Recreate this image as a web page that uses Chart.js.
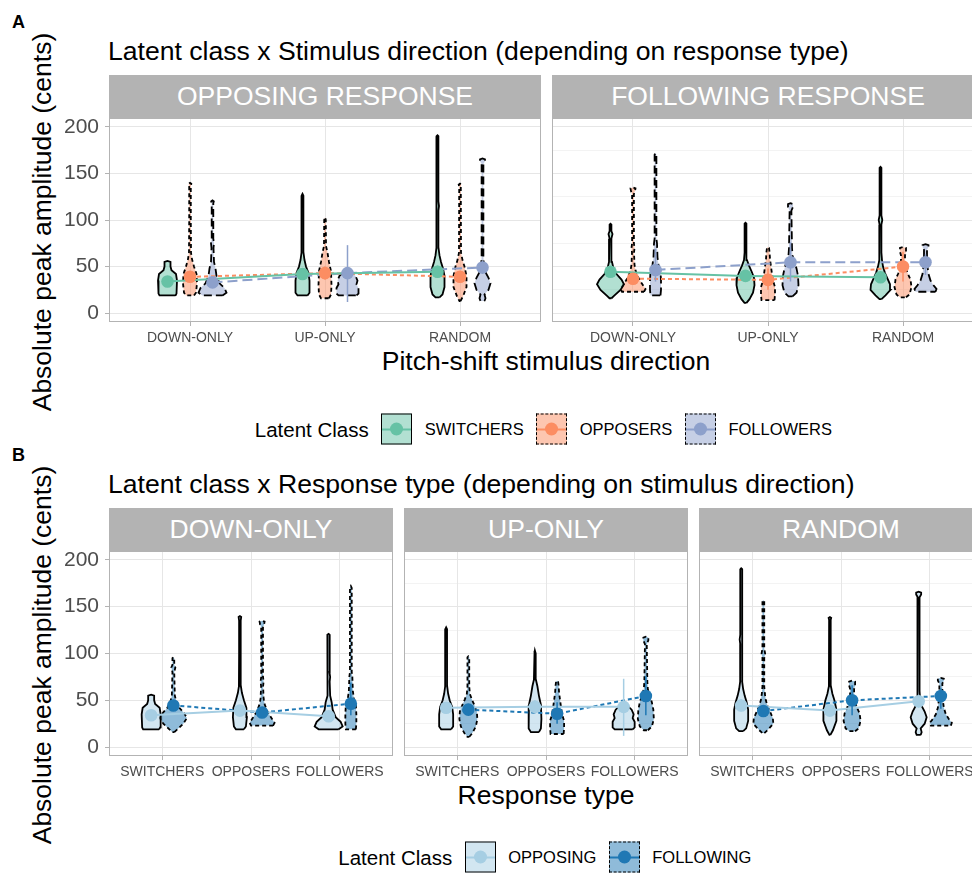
<!DOCTYPE html>
<html>
<head>
<meta charset="utf-8">
<script src="https://cdn.jsdelivr.net/npm/chart.js@4.4.1/dist/chart.umd.min.js"></script>
<style>
  html, body { margin: 0; padding: 0; background: #fff; width: 972px; height: 873px; overflow: hidden; position: relative;
    font-family: 'Liberation Sans', Arial, Helvetica, sans-serif; }
  .abs { position: absolute; white-space: nowrap; line-height: 1; color: #000; }
  .tag { font-weight: bold; font-size: 18px; }
  .title { font-size: 26.6px; }
  .strip { position: absolute; background: #B3B3B3; color: #fff; font-size: 26.5px; line-height: 1;
    display: flex; align-items: center; justify-content: center; white-space: nowrap; overflow: hidden; }
  .xtitle { font-size: 26.5px; transform: translateX(-50%); }
  .ytitle { font-size: 26.5px; transform: translate(-50%, -50%) rotate(-90deg); }
  .legend { position: absolute; display: flex; align-items: center; gap: 12.5px; transform: translateY(-50%); white-space: nowrap; }
  .legend .lt { font-size: 20.5px; }
  .legend .lab { font-size: 16.5px; }
  .key { width: 31px; height: 31px; box-sizing: border-box; border: 1.5px solid #000; position: relative; }
  .key.dashed { border-style: dashed; }
  .key .ln { position: absolute; left: 0; right: 0; top: 50%; height: 2px; margin-top: -1px; }
  .key .dt { position: absolute; left: 50%; top: 50%; width: 13px; height: 13px; margin: -6.5px 0 0 -6.5px; border-radius: 50%; }
  canvas { position: absolute; }
</style>
</head>
<body>

<div class="abs tag" style="left:12px; top:13px;">A</div>
<div class="abs title" style="left:108px; top:37.6px;">Latent class x Stimulus direction (depending on response type)</div>
<div class="strip" style="left:109px; top:75px; width:432px; height:43px;">OPPOSING RESPONSE</div>
<div class="strip" style="left:552px; top:75px; width:432px; height:43px;">FOLLOWING RESPONSE</div>
<div class="abs xtitle" style="left:546px; top:347.6px;">Pitch-shift stimulus direction</div>
<div class="abs ytitle" style="left:42px; top:222px;">Absolute peak amplitude (cents)</div>
<div class="legend" id="legendA" style="left:254.8px; top:429px;"></div>

<div class="abs tag" style="left:12px; top:446px;">B</div>
<div class="abs title" style="left:108px; top:471px;">Latent class x Response type (depending on stimulus direction)</div>
<div class="strip" style="left:109px; top:508px; width:284px; height:43px;">DOWN-ONLY</div>
<div class="strip" style="left:404px; top:508px; width:284px; height:43px;">UP-ONLY</div>
<div class="strip" style="left:699px; top:508px; width:284px; height:43px;">RANDOM</div>
<div class="abs xtitle" style="left:546px; top:781.6px;">Response type</div>
<div class="abs ytitle" style="left:42px; top:655px;">Absolute peak amplitude (cents)</div>
<div class="legend" id="legendB" style="left:338.3px; top:857px;"></div>

<script>
// ---- data ----
const stimulusDirs = ['DOWN-ONLY', 'UP-ONLY', 'RANDOM'];
const latentClasses = ['SWITCHERS', 'OPPOSERS', 'FOLLOWERS'];
const responseTypes = ['OPPOSING', 'FOLLOWING'];

const yGridValues = [0, 25, 50, 75, 100, 125, 150, 175, 200];
const yLabelValues = [0, 50, 100, 150, 200];

// mean peak amplitude, rows = latent class, cols = stimulus direction
const opposingMeans = [
  [34, 42, 44.5],
  [39, 43, 39],
  [33, 43, 49]
];
const opposingLow = [
  [30, 37, 38],
  [34, 36, 34],
  [27, 12, 42]
];
const opposingHigh = [
  [38, 47, 51],
  [44, 50, 44],
  [39, 73, 56]
];
const followingMeans = [
  [44.5, 40, 38.5],
  [37, 35.7, 50],
  [46.4, 54.6, 54.6]
];
const followingLow = [
  [40, 36, 34],
  [32, 25, 34],
  [34, 34, 41]
];
const followingHigh = [
  [49, 44, 43],
  [42, 48, 66],
  [69, 76, 63]
];

// violin density profiles: [amplitude, half-width], rows = latent class, cols = stimulus direction
const opposingViolins = [
  [
    [[19,8],[21,9],[35,9.5],[42,8.5],[46,4],[50,3],[55,3],[56,0]],
    [[19,5],[22,7],[35,7],[43,6],[50,3.5],[57,2],[65,1],[126,0.9],[128,0]],
    [[17,2],[20,5],[28,7],[40,7],[48,5.5],[55,3.5],[62,2],[70,1],[110,0.9],[115,1.5],[120,0.9],[190,0.9],[191,0]]
  ],
  [
    [[19,4],[22,6],[32,7],[42,6.5],[50,4],[58,2],[65,1],[100,0.8],[135,0.8],[139,1.3],[140,0]],
    [[16,4],[20,6],[30,6.5],[45,6],[55,4],[65,2.5],[72,1],[100,0.8],[103,0]],
    [[13,0.5],[18,3],[28,6.5],[40,6.5],[50,4.5],[57,2.5],[65,1],[136,0.8],[138,1.3],[139,0]]
  ],
  [
    [[19,10],[22,14],[27,12],[32,7],[40,4],[48,3],[55,1.5],[70,1],[75,1.5],[80,0.8],[118,0.8],[120,1.3],[121,0]],
    [[19,9],[21,11],[27,11],[31,9],[35,10],[40,8],[44,4],[46,0]],
    [[13,2],[16,3],[20,2],[25,6],[32,8],[38,6],[44,3],[50,1.5],[60,0.9],[160,0.9],[163,2.5],[165,2.5],[166,0]]
  ]
];
const followingViolins = [
  [
    [[16,1],[19,4],[25,10],[31,13.5],[36,11],[42,6],[48,3],[55,1.5],[80,0.9],[85,2],[88,0.9],[95,0.9],[96,0]],
    [[11,1],[15,4],[22,7.5],[30,9],[38,8.5],[45,6],[51,3.5],[57,1.5],[65,0.9],[96,0.9],[97,0]],
    [[15,1],[19,5],[25,10],[31,9.5],[37,7],[43,4.5],[50,2.5],[57,1.5],[65,0.9],[95,0.9],[100,1.8],[105,0.9],[156,0.9],[157,0]]
  ],
  [
    [[23,11],[26,12.5],[30,10],[35,7],[40,4.5],[46,2.5],[52,1.5],[65,1],[70,1.5],[75,0.9],[128,0.9],[131,2],[134,2.5],[135,0]],
    [[14,6.5],[20,7],[28,7],[35,5],[42,4],[50,3],[58,2],[66,1.5],[70,1],[71,0]],
    [[17,3],[20,6.5],[28,8.5],[36,7.5],[42,5],[48,3],[56,2],[62,2],[66,3],[70,3],[71,0]]
  ],
  [
    [[19,5],[25,5.5],[35,5.5],[45,5],[52,3],[60,2],[75,1.5],[80,0.9],[170,0.9],[172,0]],
    [[18,2],[22,6],[30,8],[40,7.5],[48,6],[55,4],[62,2],[70,1.5],[110,0.9],[114,2.5],[117,2.5],[118,0]],
    [[23,10],[26,11],[30,8],[35,5],[42,3],[50,2],[60,1.5],[68,1.5],[71,3],[73,3],[74,0]]
  ]
];

// ---- styles ----
const classColors = ['#66C2A5', '#FC8D62', '#8DA0CB'];
const classFills = ['rgba(102,194,165,0.5)', 'rgba(252,141,98,0.5)', 'rgba(141,160,203,0.5)'];
const classViolinDash = [[], [4, 3], [8, 4]];
const classLineDash = [[], [4, 3], [10, 5]];
const respColors = ['#A6CEE3', '#1F78B4'];
const respFills = ['rgba(166,206,227,0.5)', 'rgba(31,120,180,0.5)'];
const respDash = [[], [4, 3]];

const GRID = '#E6E6E6';
const BORDER = '#B3B3B3';
const TEXT = '#4D4D4D';
const Y_MIN = -9.5, Y_MAX = 209.5;
const PAD_TOP = 24, X_AXIS_H = 40, Y_AXIS_W = 70;

Chart.defaults.font.family = "'Liberation Sans', Arial, Helvetica, sans-serif";

const panelBorder = {
  id: 'panelBorder',
  afterDatasetsDraw(chart) {
    const { ctx, chartArea: a } = chart;
    ctx.save();
    ctx.strokeStyle = BORDER;
    ctx.lineWidth = 1;
    ctx.strokeRect(a.left + 0.5, a.top + 0.5, a.width - 1, a.height - 1);
    ctx.restore();
  }
};

// outline of a violin in data coordinates
function violinPoints(profile, center, pxPerUnit) {
  const right = profile.map(p => ({ x: center + p[1] / pxPerUnit, y: p[0] }));
  const left = profile.slice().reverse().map(p => ({ x: center - p[1] / pxPerUnit, y: p[0] }));
  return right.concat(left, [right[0]]);
}

function violinDataset(profile, center, pxPerUnit, fill, dash) {
  return {
    data: violinPoints(profile, center, pxPerUnit),
    fill: 'shape', backgroundColor: fill,
    borderColor: '#000', borderWidth: 1.8, borderDash: dash,
    pointRadius: 0, tension: 0, order: 4
  };
}

function lineDataset(points, color, dash) {
  return { data: points, borderColor: color, borderWidth: 2, borderDash: dash, pointRadius: 0, fill: false, order: 2 };
}

function errorDataset(x, lo, hi, color) {
  return { data: [{ x: x, y: lo }, { x: x, y: hi }], borderColor: color, borderWidth: 1.5, pointRadius: 0, fill: false, order: 1 };
}

function pointDataset(points, color) {
  return { data: points, showLine: false, pointRadius: 6.3, pointBackgroundColor: color, pointBorderWidth: 0, order: 0 };
}

function makeFacet(left, top, width, height, showY, categories, datasets) {
  const axisW = showY ? Y_AXIS_W : 0;
  const cw = axisW + width, ch = PAD_TOP + height + X_AXIS_H;
  const canvas = document.createElement('canvas');
  canvas.width = cw; canvas.height = ch;
  canvas.style.left = (left - axisW) + 'px';
  canvas.style.top = (top - PAD_TOP) + 'px';
  canvas.style.width = cw + 'px';
  canvas.style.height = ch + 'px';
  document.body.appendChild(canvas);

  new Chart(canvas, {
    type: 'line',
    data: { datasets: datasets },
    options: {
      responsive: false,
      animation: false,
      events: [],
      layout: { autoPadding: false, padding: { top: PAD_TOP, left: 0, right: 0, bottom: 0 } },
      plugins: { legend: { display: false }, tooltip: { enabled: false } },
      scales: {
        x: {
          type: 'linear', min: 0.4, max: 3.6,
          afterBuildTicks: s => { s.ticks = [1, 2, 3].map(v => ({ value: v })); },
          afterFit: s => { s.height = X_AXIS_H; },
          ticks: { callback: v => categories[v - 1] || '', autoSkip: false, maxRotation: 0,
                   color: TEXT, font: { size: 14 }, padding: 4 },
          grid: { color: GRID, lineWidth: 1, tickLength: 4, tickColor: BORDER },
          border: { display: false }
        },
        y: {
          type: 'linear', min: Y_MIN, max: Y_MAX,
          afterBuildTicks: s => { s.ticks = yGridValues.map(v => ({ value: v })); },
          afterFit: s => { s.width = axisW; },
          ticks: { display: showY, callback: v => yLabelValues.includes(v) ? String(v) : '',
                   color: TEXT, font: { size: 21 }, padding: 6 },
          grid: {
            color: GRID,
            lineWidth: c => (c.tick && yLabelValues.includes(c.tick.value)) ? 1 : 0.5,
            drawTicks: showY, tickLength: 4,
            tickColor: c => (c.tick && yLabelValues.includes(c.tick.value)) ? BORDER : 'rgba(0,0,0,0)'
          },
          border: { display: false }
        }
      }
    },
    plugins: [panelBorder]
  });
}

// ---- panel A: facets by response type, x = stimulus direction, groups = latent class ----
const A_WIDTH = 432, A_TOP = 118, A_HEIGHT = 204;
const A_DODGE = 1 / 6;
const aLefts = [109, 552];
[0, 1].forEach(r => {
  const means = r === 0 ? opposingMeans : followingMeans;
  const lows = r === 0 ? opposingLow : followingLow;
  const highs = r === 0 ? opposingHigh : followingHigh;
  const violins = r === 0 ? opposingViolins : followingViolins;
  const ppu = A_WIDTH / 3.2;
  const ds = [];
  latentClasses.forEach((cls, c) => {
    const off = (c - 1) * A_DODGE;
    const pts = stimulusDirs.map((s, i) => ({ x: i + 1 + off, y: means[c][i] }));
    ds.push(pointDataset(pts, classColors[c]));
    stimulusDirs.forEach((s, i) => {
      ds.push(errorDataset(i + 1 + off, lows[c][i], highs[c][i], classColors[c]));
      ds.push(violinDataset(violins[c][i], i + 1 + off, ppu, classFills[c], classViolinDash[c]));
    });
    ds.push(lineDataset(pts, classColors[c], classLineDash[c]));
  });
  makeFacet(aLefts[r], A_TOP, A_WIDTH, A_HEIGHT, r === 0, stimulusDirs, ds);
});

// ---- panel B: facets by stimulus direction, x = latent class, groups = response type ----
const B_WIDTH = 284, B_TOP = 551, B_HEIGHT = 205;
const B_DODGE = 0.125;
const bLefts = [109, 404, 699];
stimulusDirs.forEach((dir, s) => {
  const ppu = B_WIDTH / 3.2;
  const ds = [];
  [0, 1].forEach(r => {
    const means = r === 0 ? opposingMeans : followingMeans;
    const lows = r === 0 ? opposingLow : followingLow;
    const highs = r === 0 ? opposingHigh : followingHigh;
    const violins = r === 0 ? opposingViolins : followingViolins;
    const off = (r === 0 ? -1 : 1) * B_DODGE;
    const pts = latentClasses.map((cls, c) => ({ x: c + 1 + off, y: means[c][s] }));
    ds.push(pointDataset(pts, respColors[r]));
    latentClasses.forEach((cls, c) => {
      ds.push(errorDataset(c + 1 + off, lows[c][s], highs[c][s], respColors[r]));
      ds.push(violinDataset(violins[c][s], c + 1 + off, ppu, respFills[r], respDash[r]));
    });
    ds.push(lineDataset(pts, respColors[r], respDash[r]));
  });
  makeFacet(bLefts[s], B_TOP, B_WIDTH, B_HEIGHT, s === 0, latentClasses, ds);
});

// ---- legends ----
function buildLegend(id, labels, colors, fills, dashed) {
  const el = document.getElementById(id);
  let html = '<span class="lt">Latent Class</span>';
  labels.forEach((lab, i) => {
    html += '<div class="key' + (dashed[i] ? ' dashed' : '') + '" style="background:' + fills[i] + '">' +
            '<div class="ln" style="background:' + colors[i] + '"></div>' +
            '<div class="dt" style="background:' + colors[i] + '"></div></div>' +
            '<span class="lab">' + lab + '</span>';
  });
  el.innerHTML = html;
}
buildLegend('legendA', latentClasses, classColors, classFills, [false, true, true]);
buildLegend('legendB', responseTypes, respColors, respFills, [false, true]);
</script>
</body>
</html>
